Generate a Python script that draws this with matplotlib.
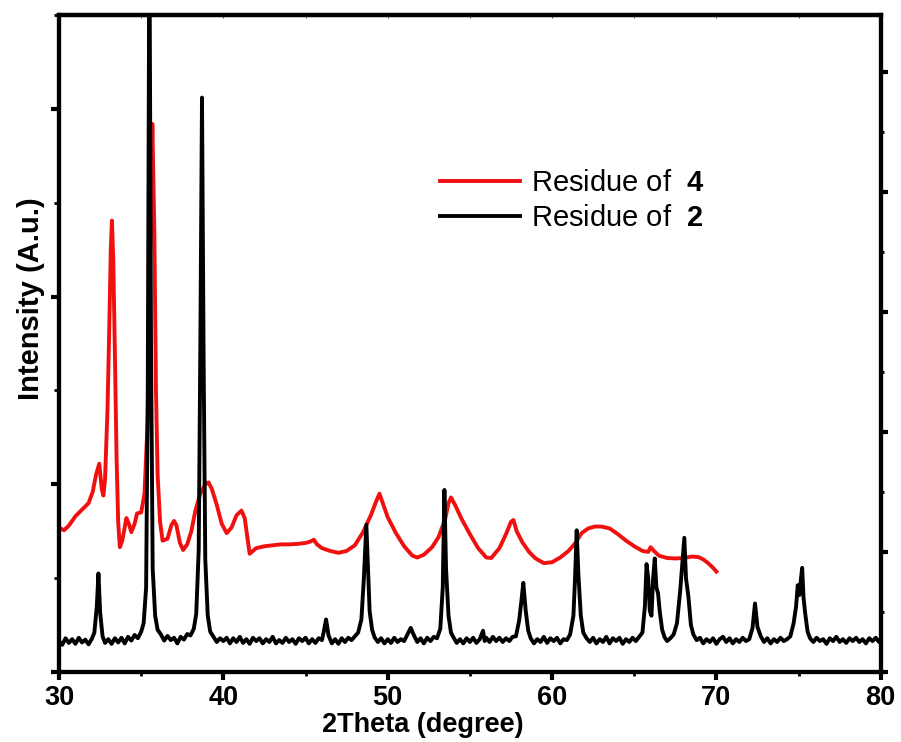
import matplotlib
matplotlib.use('Agg')
import matplotlib.pyplot as plt
from matplotlib.ticker import MultipleLocator

plt.rcParams['font.family'] = ['Liberation Sans', 'DejaVu Sans']
plt.rcParams['mathtext.fontset'] = 'custom'
plt.rcParams['mathtext.rm'] = 'Liberation Sans'
plt.rcParams['mathtext.bf'] = 'Liberation Sans:bold'

# Residue of 2 (black pattern)
black_2theta = [
    30.0, 30.2, 30.4, 30.6, 30.8, 31.0, 31.2, 31.4, 31.6, 31.8,
    32.0, 32.15, 32.3, 32.4, 32.5, 32.65, 32.8, 33.0, 33.2, 33.4,
    33.6, 33.8, 34.0, 34.2, 34.4, 34.6, 34.8, 35.0, 35.15, 35.3,
    35.4, 35.5, 35.6, 35.7, 35.85, 36.0, 36.2, 36.4, 36.6, 36.8,
    37.0, 37.2, 37.4, 37.6, 37.8, 38.0, 38.2, 38.35, 38.5, 38.6,
    38.7, 38.8, 38.9, 39.05, 39.2, 39.4, 39.6, 39.8,
    40.0, 40.2, 40.4, 40.6, 40.8, 41.0, 41.2, 41.4, 41.6, 41.8,
    42.0, 42.2, 42.4, 42.6, 42.8, 43.0, 43.2, 43.4, 43.6, 43.8,
    44.0, 44.2, 44.4, 44.6, 44.8, 45.0, 45.2, 45.4, 45.6, 45.8,
    46.0, 46.1, 46.25, 46.4, 46.6, 46.8, 47.0, 47.2, 47.4, 47.6,
    47.8, 48.0, 48.2, 48.4, 48.55, 48.7, 48.8, 48.9, 49.05, 49.2,
    49.4, 49.6, 49.8, 50.0, 50.2, 50.4, 50.6, 50.8, 51.0, 51.2,
    51.4, 51.6, 51.8, 52.0, 52.2, 52.4, 52.6, 52.8, 53.0, 53.2,
    53.35, 53.45, 53.55, 53.7, 53.85, 54.0, 54.2, 54.4, 54.6, 54.8,
    55.0, 55.2, 55.4, 55.6, 55.8, 55.9, 56.0, 56.2, 56.4, 56.6,
    56.8, 57.0, 57.2, 57.4, 57.6, 57.8, 58.0, 58.15, 58.25, 58.4,
    58.55, 58.7, 58.9, 59.1, 59.3, 59.5, 59.7, 59.9, 60.1, 60.3,
    60.5, 60.7, 60.9, 61.1, 61.3, 61.4, 61.5, 61.6, 61.75, 61.9,
    62.1, 62.3, 62.5, 62.7, 62.9, 63.1, 63.3, 63.5, 63.7, 63.9,
    64.1, 64.3, 64.5, 64.7, 64.9, 65.1, 65.3, 65.5, 65.65, 65.75,
    65.85, 65.95, 66.05, 66.15, 66.25, 66.35, 66.45, 66.55, 66.7, 66.85,
    67.0, 67.2, 67.4, 67.6, 67.8, 67.95, 68.05, 68.15, 68.3, 68.45,
    68.6, 68.8, 69.0, 69.2, 69.4, 69.6, 69.8, 70.0, 70.2, 70.4,
    70.6, 70.8, 71.0, 71.2, 71.4, 71.6, 71.8, 72.0, 72.2, 72.35,
    72.5, 72.7, 72.9, 73.1, 73.3, 73.5, 73.7, 73.9, 74.1, 74.3,
    74.5, 74.7, 74.85, 74.95, 75.05, 75.15, 75.22, 75.3, 75.4, 75.55,
    75.7, 75.9, 76.1, 76.3, 76.5, 76.7, 76.9, 77.1, 77.3, 77.5,
    77.7, 77.9, 78.1, 78.3, 78.5, 78.7, 78.9, 79.1, 79.3, 79.5,
    79.7, 79.9, 80.0,
]
black_counts = [
    330, 290, 360, 310, 350, 300, 365, 315, 345, 295,
    355, 420, 700, 1050, 640, 380, 310, 350, 300, 360,
    315, 365, 305, 375, 335, 395, 360, 430, 520, 900,
    3000, 8000, 3400, 1100, 600, 450, 400, 335, 385, 340,
    365, 305, 375, 345, 405, 390, 460, 620, 1300, 3500,
    6120, 3300, 1200, 600, 430, 375, 320, 360,
    330, 365, 305, 360, 320, 375, 310, 350, 300, 365,
    330, 360, 305, 350, 320, 375, 305, 340, 310, 365,
    320, 350, 300, 360, 330, 365, 305, 350, 310, 360,
    340, 420, 560, 390, 305, 350, 300, 360, 320, 365,
    340, 380, 420, 560, 1000, 1570, 1100, 650, 450, 370,
    320, 360, 305, 350, 310, 365, 320, 350, 330, 400,
    470, 390, 320, 360, 305, 365, 330, 375, 360, 460,
    900, 1940, 1100, 600, 420, 370, 310, 350, 305, 360,
    320, 365, 310, 350, 440, 330, 365, 320, 375, 330,
    365, 320, 360, 330, 375, 380, 550, 780, 950, 650,
    440, 360, 305, 350, 320, 375, 310, 360, 330, 365,
    305, 350, 340, 400, 600, 1000, 1510, 1050, 600, 420,
    360, 320, 365, 305, 350, 320, 375, 305, 360, 330,
    365, 300, 350, 320, 365, 330, 375, 420, 700, 1150,
    1000, 650, 600, 1000, 1210, 900, 840, 650, 450, 370,
    330, 360, 400, 520, 870, 1200, 1430, 1000, 800, 500,
    400, 340, 365, 305, 350, 320, 360, 300, 350, 375,
    320, 360, 305, 350, 320, 365, 330, 350, 470, 730,
    480, 380, 320, 360, 305, 350, 320, 365, 330, 350,
    380, 520, 700, 925, 820, 1000, 1110, 800, 630, 430,
    360, 320, 365, 330, 350, 300, 360, 330, 375, 320,
    350, 310, 360, 330, 365, 320, 350, 305, 360, 330,
    365, 320, 350,
]

# Residue of 4 (red pattern)
red_2theta = [
    30.0, 30.3, 30.6, 31.0, 31.4, 31.8, 32.05, 32.25, 32.45, 32.6,
    32.7, 32.8, 32.95, 33.05, 33.15, 33.22, 33.3, 33.4, 33.5, 33.6,
    33.7, 33.85, 34.1, 34.25, 34.4, 34.6, 34.75, 35.0, 35.2, 35.4,
    35.55, 35.68, 35.8, 35.9, 36.0, 36.15, 36.3, 36.6, 36.85, 37.0,
    37.15, 37.35, 37.55, 37.8, 38.05, 38.3, 38.6, 38.9, 39.1, 39.3,
    39.6, 39.9, 40.2, 40.5, 40.8, 41.1, 41.3, 41.45, 41.6, 41.8,
    42.0, 42.5, 43.0, 43.5, 44.0, 44.5, 45.0, 45.3, 45.5, 45.7,
    46.0, 46.5, 47.0, 47.5, 48.0, 48.5, 49.0, 49.3, 49.5, 49.7,
    50.0, 50.5, 51.0, 51.5, 51.8, 52.2, 52.7, 53.1, 53.5, 53.7,
    53.85, 54.1, 54.5, 55.0, 55.5, 56.0, 56.3, 56.8, 57.2, 57.5,
    57.65, 57.85, 58.2, 58.6, 59.0, 59.5, 60.0, 60.5, 61.0, 61.4,
    61.8, 62.2, 62.6, 63.0, 63.5, 64.0, 64.5, 65.0, 65.5, 65.85,
    66.0, 66.2, 66.5, 67.0, 67.5, 68.0, 68.5, 68.9, 69.2, 69.5,
    69.8, 70.0,
]
red_counts = [
    1540, 1510, 1560, 1660, 1730, 1800, 1920, 2100, 2220, 1950,
    1880, 2050, 2800, 3600, 4500, 4810, 4400, 3400, 2300, 1600,
    1330, 1400, 1640, 1580, 1490, 1580, 1690, 1700, 1900, 2700,
    4500, 5840, 4700, 3000, 2100, 1600, 1400, 1420, 1570, 1610,
    1560, 1380, 1300, 1360, 1500, 1720, 1900, 2000, 2020, 1950,
    1780, 1580, 1480, 1540, 1670, 1720, 1640, 1450, 1260, 1290,
    1320, 1340, 1350, 1360, 1360, 1365, 1375, 1390, 1410, 1360,
    1320, 1290, 1270, 1290, 1350, 1490, 1680, 1820, 1900, 1800,
    1650, 1480, 1340, 1240, 1220, 1250, 1330, 1440, 1630, 1800,
    1860, 1780, 1630, 1470, 1320, 1220, 1215, 1320, 1470, 1600,
    1620, 1500, 1380, 1280, 1210, 1160, 1170, 1220, 1290, 1370,
    1480, 1530, 1550, 1550, 1530, 1470, 1400, 1340, 1290, 1280,
    1330, 1290, 1240, 1215, 1210, 1215, 1230, 1225, 1200, 1160,
    1110, 1070,
]

legend_labels = [r'Residue of  $\mathbf{4}$', r'Residue of  $\mathbf{2}$']

fig = plt.figure(figsize=(9.01, 7.42), dpi=100)
ax = fig.add_axes([0.0655, 0.0943, 0.912, 0.8855])

red_line, = ax.plot(red_2theta, red_counts, color='#f01010', lw=2.8,
                    zorder=2, label=legend_labels[0])
black_line, = ax.plot(black_2theta, black_counts, color='black', lw=2.8,
                      zorder=3, label=legend_labels[1])

ax.set_xlim(30, 80)
ax.set_ylim(0, 7000)
ax.xaxis.set_major_locator(MultipleLocator(10))
ax.xaxis.set_minor_locator(MultipleLocator(5))
ax.yaxis.set_major_locator(MultipleLocator(2000))
ax.yaxis.set_minor_locator(MultipleLocator(1000))
ax.tick_params(axis='x', which='major', direction='out', length=6, width=3,
               labelsize=19.5, pad=3)
ax.tick_params(axis='x', which='minor', direction='out', length=3, width=2)
ax.tick_params(axis='y', which='major', direction='out', length=6, width=3,
               labelleft=False)
ax.tick_params(axis='y', which='minor', direction='out', length=3.5, width=2)
for lab in ax.get_xticklabels():
    lab.set_fontweight('bold')
for sp in ax.spines.values():
    sp.set_linewidth(3)

# top axis: faint inward ticks
top = ax.secondary_xaxis('top')
top.xaxis.set_major_locator(MultipleLocator(5))
top.tick_params(direction='in', length=2.5, width=0.8, colors='#555555',
                labeltop=False)
top.spines['top'].set_linewidth(3)

# right axis: independent tick spacing
ax2 = ax.twinx()
ax2.set_ylim(0, 5.475)
ax2.yaxis.set_major_locator(MultipleLocator(1))
ax2.yaxis.set_minor_locator(MultipleLocator(0.5))
ax2.tick_params(axis='y', which='major', direction='out', length=5, width=3,
                labelright=False)
ax2.tick_params(axis='y', which='minor', direction='out', length=2.5, width=2)
for sp in ax2.spines.values():
    sp.set_linewidth(3)

ax.set_xlabel('2Theta (degree)', fontsize=19.5, fontweight='bold')
ax.xaxis.set_label_coords(0.443, -0.0605)
ax.set_ylabel('Intensity (A.u.)', fontsize=21, fontweight='bold')
ax.yaxis.set_label_coords(-0.017, 0.568)

ax.legend(handles=[red_line, black_line], loc='center left',
          bbox_to_anchor=(0.4635, 0.7177), frameon=False, fontsize=21,
          handlelength=2.74, handletextpad=0.38, labelspacing=0.25,
          borderpad=0, borderaxespad=0)

fig.savefig('out.png', dpi=100)
